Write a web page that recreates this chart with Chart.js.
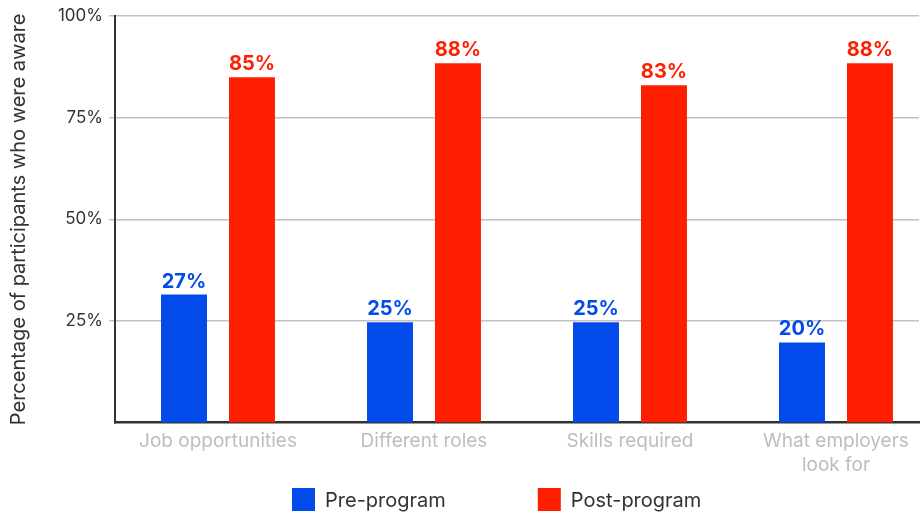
<!DOCTYPE html>
<html>
<head>
<meta charset="utf-8">
<script src="https://cdn.jsdelivr.net/npm/chart.js@4.4.1/dist/chart.umd.min.js"></script>
<style>
    html, body { margin: 0; padding: 0; background: #fff; overflow: hidden; }
    #wrap { width: 924px; height: 514px; }
</style>
</head>
<body>
<div id="wrap"><canvas id="myChart"></canvas></div>
<script>
"use strict";

const categories = [["Job opportunities"], ["Different roles"], ["Skills required"], ["What employers", "look for"]];
const preProgram = [31.5, 24.7, 24.7, 19.7];
const postProgram = [85, 88.4, 83, 88.4];
const preLabels = ["27%", "25%", "25%", "20%"];
const postLabels = ["85%", "88%", "83%", "88%"];
const yTicks = [25, 50, 75, 100];

const BLUE = "#034AEB";
const RED = "#FF1F00";
const FONT = "Inter";

// value labels above each bar
const barLabels = {
    id: "barLabels",
    afterDatasetsDraw(chart) {
        const ctx = chart.ctx;
        chart.data.datasets.forEach(function (ds, di) {
            chart.getDatasetMeta(di).data.forEach(function (bar, i) {
                ctx.save();
                ctx.font = "bold 20px " + FONT;
                ctx.fillStyle = ds.backgroundColor;
                ctx.textAlign = "center";
                ctx.textBaseline = "alphabetic";
                ctx.fillText(ds.valueLabels[i], bar.x, bar.y - 7);
                ctx.restore();
            });
        });
    }
};

// legend drawn by hand so the spacing matches
const customLegend = {
    id: "customLegend",
    afterDraw(chart, args, opts) {
        const ctx = chart.ctx;
        let x = opts.x;
        ctx.save();
        ctx.font = "20px " + FONT;
        ctx.textBaseline = "middle";
        chart.data.datasets.forEach(function (ds) {
            ctx.fillStyle = ds.backgroundColor;
            ctx.fillRect(x, opts.y, opts.box, opts.box);
            x += opts.box + opts.gap;
            ctx.fillStyle = "#333";
            ctx.fillText(ds.label, x, opts.y + opts.box / 2 + 1);
            x += ctx.measureText(ds.label).width + opts.itemGap;
        });
        ctx.restore();
    }
};

const ctx = document.getElementById("myChart");
const chart = new Chart(ctx, {
    type: "bar",
    data: {
        labels: categories.map(function (c, i) { return i; }),
        datasets: [{
            label: "Pre-program",
            data: preProgram,
            valueLabels: preLabels,
            backgroundColor: BLUE
        }, {
            label: "Post-program",
            data: postProgram,
            valueLabels: postLabels,
            backgroundColor: RED
        }]
    },
    plugins: [barLabels, customLegend],
    options: {
        responsive: true,
        maintainAspectRatio: false,
        animation: false,
        categoryPercentage: 0.66,
        barPercentage: 0.676,
        layout: { padding: { top: 5, right: 5, bottom: 30, left: 0 } },
        plugins: {
            legend: { display: false },
            tooltip: { enabled: false },
            customLegend: { x: 292, y: 488, box: 23, gap: 10, itemGap: 92 }
        },
        scales: {
            x: {
                type: "linear",
                offset: false,
                min: -0.5,
                max: 3.403,
                afterBuildTicks: function (scale) {
                    scale.ticks = categories.map(function (c, i) { return { value: i }; });
                },
                grid: { display: false, drawTicks: false },
                border: { display: true, color: "#333", width: 2.5 },
                ticks: {
                    padding: 7,
                    color: "#bdbdbd",
                    font: { family: FONT, size: 19, lineHeight: 1.25 },
                    maxRotation: 0,
                    autoSkip: false,
                    callback: function (value) { return categories[value]; }
                }
            },
            y: {
                min: 0,
                max: 100,
                afterBuildTicks: function (scale) {
                    scale.ticks = yTicks.map(function (v) { return { value: v }; });
                },
                afterFit: function (scale) { scale.width = 115; },
                grid: { color: "#c2c2c2", lineWidth: 1.5, tickLength: 6 },
                border: { display: true, color: "#333", width: 2 },
                ticks: {
                    padding: 6,
                    color: "#333",
                    font: { family: FONT, size: 17 },
                    callback: function (value) { return value + "%"; }
                },
                title: {
                    display: true,
                    text: "Percentage of participants who were aware",
                    color: "#333",
                    font: { family: FONT, size: 20 },
                    padding: { top: 7, bottom: 0 }
                }
            }
        }
    }
});
</script>
</body>
</html>
